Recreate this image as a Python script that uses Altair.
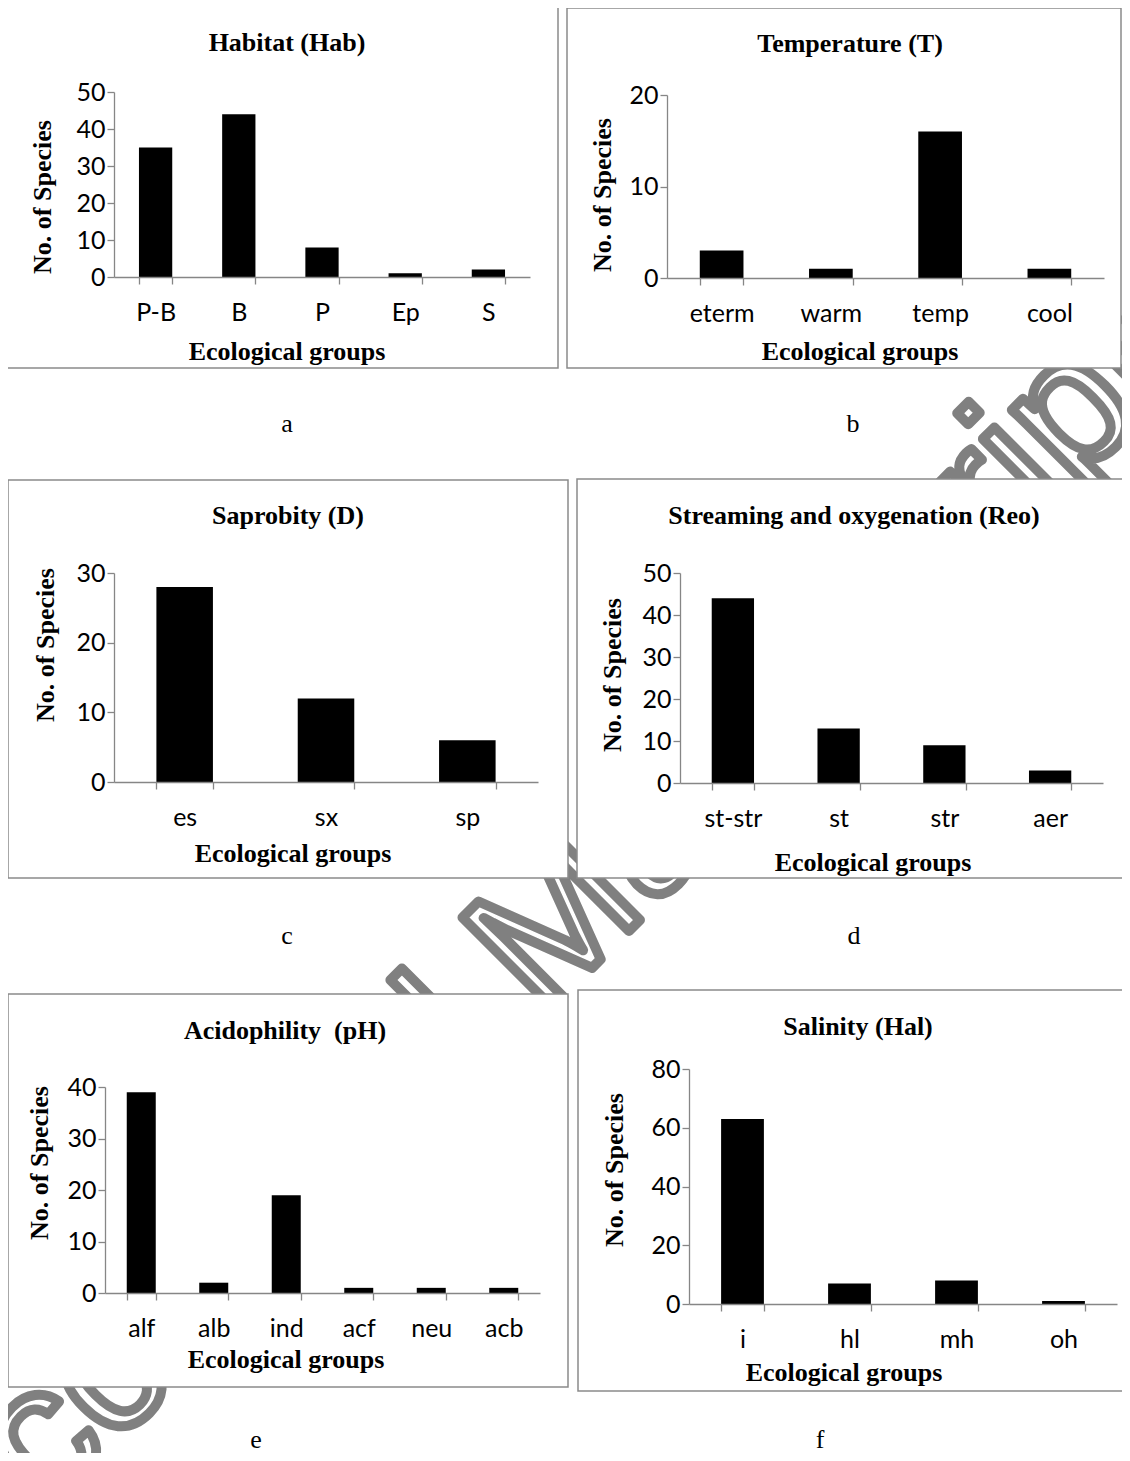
import altair as alt
import pandas as pd

# ---------------- data ----------------
hab_groups = ["P-B", "B", "P", "Ep", "S"]
hab_counts = [35, 44, 8, 1, 2]
hab_ticks = [0, 10, 20, 30, 40, 50]

temp_groups = ["eterm", "warm", "temp", "cool"]
temp_counts = [3, 1, 16, 1]
temp_ticks = [0, 10, 20]

sap_groups = ["es", "sx", "sp"]
sap_counts = [28, 12, 6]
sap_ticks = [0, 10, 20, 30]

reo_groups = ["st-str", "st", "str", "aer"]
reo_counts = [44, 13, 9, 3]
reo_ticks = [0, 10, 20, 30, 40, 50]

ph_groups = ["alf", "alb", "ind", "acf", "neu", "acb"]
ph_counts = [39, 2, 19, 1, 1, 1]
ph_ticks = [0, 10, 20, 30, 40]

hal_groups = ["i", "hl", "mh", "oh"]
hal_counts = [63, 7, 8, 1]
hal_ticks = [0, 20, 40, 60, 80]

titles = ["Habitat (Hab)", "Temperature (T)", "Saprobity (D)",
          "Streaming and oxygenation (Reo)", "Acidophility \u00a0(pH)", "Salinity (Hal)"]
letters = ["a", "b", "c", "d", "e", "f"]
x_title = "Ecological groups"
y_title = "No. of Species"
watermark = "Accepted Manuscript"

# ---------------- layout (page pixel coordinates) ----------------
W, H = 1114, 1445
M = 8


def px(v):
    return v - M


panels = [
    dict(groups=hab_groups, counts=hab_counts, ticks=hab_ticks,
         box=(7, 4, 558, 368), xr=(114, 530), y0=277, ytop=92,
         title=(287, 51), xt=(287, 360), yt=(43, 197), let=(287, 432)),
    dict(groups=temp_groups, counts=temp_counts, ticks=temp_ticks,
         box=(567, 8, 1121, 368), xr=(667, 1104), y0=278, ytop=95,
         title=(850, 52), xt=(860, 360), yt=(603, 195), let=(853, 432)),
    dict(groups=sap_groups, counts=sap_counts, ticks=sap_ticks,
         box=(8, 480, 568, 878), xr=(114, 538), y0=782, ytop=573,
         title=(288, 524), xt=(293, 862), yt=(46, 645), let=(287, 944)),
    dict(groups=reo_groups, counts=reo_counts, ticks=reo_ticks,
         box=(577, 479, 1130, 878), xr=(680, 1103), y0=783, ytop=573,
         title=(854, 524), xt=(873, 871), yt=(613, 675), let=(854, 944)),
    dict(groups=ph_groups, counts=ph_counts, ticks=ph_ticks,
         box=(8, 994, 568, 1387), xr=(105, 540), y0=1293, ytop=1087,
         title=(285, 1039), xt=(286, 1368), yt=(40, 1163), let=(256, 1448)),
    dict(groups=hal_groups, counts=hal_counts, ticks=hal_ticks,
         box=(578, 990, 1130, 1391), xr=(689, 1117), y0=1304, ytop=1069,
         title=(858, 1035), xt=(844, 1381), yt=(615, 1170), let=(820, 1448)),
]

GRAY = "#868686"
SERIF = "Liberation Serif"
SANS = "Lato"

one = pd.DataFrame({"k": [0]})
layers = []

# watermark (behind the white panel boxes)
layers.append(
    alt.Chart(one).mark_text(
        text=watermark, font="Liberation Sans", fontSize=185, angle=315,
        align="left", baseline="alphabetic", fill="white", stroke="#808080",
        strokeWidth=10, strokeJoin="round",
    ).encode(x=alt.value(px(-40)), y=alt.value(px(1600)))
)

for i, p in enumerate(panels):
    bx0, by0, bx1, by1 = p["box"]
    layers.append(
        alt.Chart(one).mark_rect(fill="white", stroke="#8a8a8a", strokeWidth=1.5).encode(
            x=alt.value(px(bx0)), x2=alt.value(px(bx1)),
            y=alt.value(px(by0)), y2=alt.value(px(by1)))
    )

for i, p in enumerate(panels):
    x0, x1 = p["xr"]
    df = pd.DataFrame({"group": p["groups"], "count": p["counts"]})
    bars = alt.Chart(df).mark_bar(color="black").encode(
        x=alt.X("group:N",
                scale=alt.Scale(domain=p["groups"], range=[px(x0), px(x1)],
                                paddingInner=0.6, paddingOuter=0.3),
                axis=alt.Axis(orient="bottom", offset=px(p["y0"]) - H, title=None,
                              labelAngle=0, tickBand="extent", grid=False,
                              labelFont=SANS, labelFontSize=25, labelColor="black",
                              labelPadding=16, tickSize=7, tickColor=GRAY, domainColor=GRAY,
                              tickWidth=1.3, domainWidth=1.3, zindex=1)),
        y=alt.Y("count:Q",
                scale=alt.Scale(domain=[0, p["ticks"][-1]], range=[px(p["y0"]), px(p["ytop"])],
                                nice=False, zero=True),
                axis=alt.Axis(orient="left", offset=-px(x0), title=None, values=p["ticks"],
                              grid=False, labelFont=SANS, labelFontSize=25, labelColor="black",
                              labelPadding=2, tickSize=7, tickColor=GRAY, domainColor=GRAY,
                              tickWidth=1.3, domainWidth=1.3, zindex=1)),
    )
    layers.append(bars)

    tx, ty = p["title"]
    layers.append(alt.Chart(one).mark_text(
        text=titles[i], font=SERIF, fontSize=26, fontWeight="bold", color="black",
        align="center", baseline="alphabetic").encode(x=alt.value(px(tx)), y=alt.value(px(ty))))
    xx, xy = p["xt"]
    layers.append(alt.Chart(one).mark_text(
        text=x_title, font=SERIF, fontSize=26, fontWeight="bold", color="black",
        align="center", baseline="alphabetic").encode(x=alt.value(px(xx)), y=alt.value(px(xy))))
    yx, yy = p["yt"]
    layers.append(alt.Chart(one).mark_text(
        text=y_title, font=SERIF, fontSize=26, fontWeight="bold", color="black",
        align="center", baseline="middle", angle=270).encode(x=alt.value(px(yx)), y=alt.value(px(yy))))
    lx, ly = p["let"]
    layers.append(alt.Chart(one).mark_text(
        text=letters[i], font=SERIF, fontSize=26, color="black",
        align="center", baseline="alphabetic").encode(x=alt.value(px(lx)), y=alt.value(px(ly))))

chart = (
    alt.layer(*layers)
    .resolve_scale(x="independent", y="independent")
    .resolve_axis(x="independent", y="independent")
    .properties(width=W, height=H, padding=0, background="white",
                autosize=alt.AutoSizeParams(type="none"))
    .configure_view(strokeWidth=0)
)

chart.save("out.html", embed_options={"renderer": "svg", "actions": False})
